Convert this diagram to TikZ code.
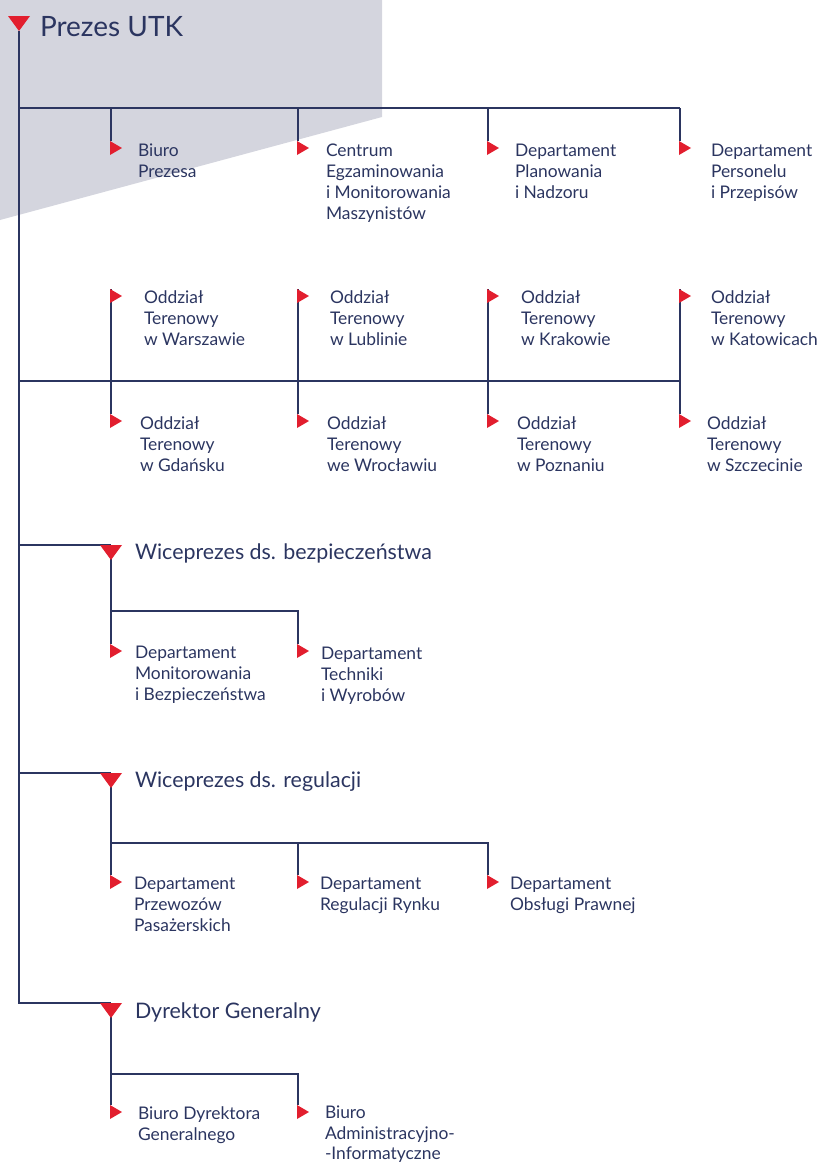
\documentclass[tikz,border=0pt]{standalone}
\usepackage{fontspec}
\setmainfont{Lato}
\definecolor{navy}{RGB}{43,53,96}
\definecolor{flagred}{RGB}{226,30,46}
\definecolor{greyfill}{RGB}{212,213,222}
\newcommand\flagR[1]{\fill[flagred] (#1) ++(-1,0) -- ++(12,7) -- ++(-12,7) -- cycle;}
\newcommand\flagD[1]{\fill[flagred] (#1) ++(-11,0) -- ++(22,0) -- ++(-11,15) -- cycle;}
\begin{document}
\begin{tikzpicture}[x=1pt,y=-1pt,
  conn/.style={draw=navy,line width=2.2pt,line join=miter},
  unit/.style={anchor=north west,inner sep=0pt,outer sep=0pt,text=navy,align=left,
    font=\fontsize{17.4}{21}\selectfont},
  head/.style={anchor=north west,inner sep=0pt,outer sep=0pt,text=navy,
    font=\fontsize{21.4}{26}\selectfont},
  top/.style={anchor=north west,inner sep=0pt,outer sep=0pt,text=navy,
    font=\fontsize{28}{32}\selectfont}]
\useasboundingbox (0,0) rectangle (819,1165);
\fill[greyfill] (0,0) -- (382,0) -- (382,117) -- (0,220) -- cycle;

% ---- coordinates
\coordinate (t0) at (19,16);
\coordinate (t1) at (19,31);
\coordinate (tb) at (19,1003);
\coordinate (h1) at (19,108);
\coordinate (h2) at (19,381);
\coordinate (h3) at (19,545);
\coordinate (h4) at (19,773);
% row 1
\coordinate (r1a) at (111,108); \coordinate (f1a) at (111,141);
\coordinate (r1b) at (298,108); \coordinate (f1b) at (298,141);
\coordinate (r1c) at (488,108); \coordinate (f1c) at (488,141);
\coordinate (r1d) at (680,108); \coordinate (f1d) at (680,141);
% row 2
\coordinate (u2a) at (111,289); \coordinate (d2a) at (111,414);
\coordinate (u2b) at (298,289); \coordinate (d2b) at (298,414);
\coordinate (u2c) at (488,289); \coordinate (d2c) at (488,414);
\coordinate (u2d) at (680,289); \coordinate (d2d) at (680,414);
\coordinate (r2d) at (680,381);
% vice bezp
\coordinate (v1) at (111,545); \coordinate (v1b) at (111,558);
\coordinate (v1h) at (111,611); \coordinate (v1r) at (298,611);
\coordinate (fba) at (111,644); \coordinate (fbb) at (298,644);
% vice reg
\coordinate (v2) at (111,773); \coordinate (v2b) at (111,786);
\coordinate (v2h) at (111,843); \coordinate (v2m) at (298,843); \coordinate (v2r) at (488,843);
\coordinate (fra) at (111,875); \coordinate (frb) at (298,875); \coordinate (frc) at (488,875);
% dyrektor
\coordinate (v3) at (111,1003); \coordinate (v3b) at (111,1016);
\coordinate (v3h) at (111,1074); \coordinate (v3r) at (298,1074);
\coordinate (fda) at (111,1105); \coordinate (fdb) at (298,1105);

% ---- connectors
\draw[conn] (t1) -- (tb) -- (v3);
\draw[conn] (h1) -- (r1d);
\draw[conn] (r1a) -- (f1a); \draw[conn] (r1b) -- (f1b);
\draw[conn] (r1c) -- (f1c); \draw[conn] (r1d) -- (f1d);
\draw[conn] (h2) -- (r2d);
\draw[conn] (u2a) -- (d2a); \draw[conn] (u2b) -- (d2b);
\draw[conn] (u2c) -- (d2c); \draw[conn] (u2d) -- (d2d);
\draw[conn] (h3) -- (v1);
\draw[conn] (v1b) -- (fba);
\draw[conn] (v1h) -- (v1r) -- (fbb);
\draw[conn] (h4) -- (v2);
\draw[conn] (v2b) -- (fra);
\draw[conn] (v2h) -- (v2r) -- (frc);
\draw[conn] (v2m) -- (frb);
\draw[conn] (v3b) -- (fda);
\draw[conn] (v3h) -- (v3r) -- (fdb);

% ---- markers
\flagD{t0}
\flagD{v1} \flagD{v2} \flagD{v3}
\flagR{f1a} \flagR{f1b} \flagR{f1c} \flagR{f1d}
\flagR{u2a} \flagR{u2b} \flagR{u2c} \flagR{u2d}
\flagR{d2a} \flagR{d2b} \flagR{d2c} \flagR{d2d}
\flagR{fba} \flagR{fbb}
\flagR{fra} \flagR{frb} \flagR{frc}
\flagR{fda} \flagR{fdb}

% ---- texts
\node[top] (prezes) at (40,16) {Prezes UTK};
\node[unit] (b1) at (138,144) {Biuro\\Prezesa};
\node[unit] (b2) at (326,144) {Centrum\\Egzaminowania\\i Monitorowania\\Maszynistów};
\node[unit] (b3) at (515,144) {Departament\\Planowania\\i Nadzoru};
\node[unit] (b4) at (711,144) {Departament\\Personelu\\i Przepisów};
\node[unit] (o1) at (144,291) {Oddział\\Terenowy\\w Warszawie};
\node[unit] (o2) at (330,291) {Oddział\\Terenowy\\w Lublinie};
\node[unit] (o3) at (521,291) {Oddział\\Terenowy\\w Krakowie};
\node[unit] (o4) at (711,291) {Oddział\\Terenowy\\w Katowicach};
\node[unit] (o5) at (140,417) {Oddział\\Terenowy\\w Gdańsku};
\node[unit] (o6) at (327,417) {Oddział\\Terenowy\\we Wrocławiu};
\node[unit] (o7) at (517,417) {Oddział\\Terenowy\\w Poznaniu};
\node[unit] (o8) at (707,417) {Oddział\\Terenowy\\w Szczecinie};
\node[head] (wb) at (135,544) {Wiceprezes ds. bezpieczeństwa};
\node[unit] (bz1) at (135,646) {Departament\\Monitorowania\\i Bezpieczeństwa};
\node[unit] (bz2) at (321,647) {Departament\\Techniki\\i Wyrobów};
\node[head] (wr) at (135,772) {Wiceprezes ds. regulacji};
\node[unit] (rg1) at (134,877) {Departament\\Przewozów\\Pasażerskich};
\node[unit] (rg2) at (320,877) {Departament\\Regulacji Rynku};
\node[unit] (rg3) at (510,877) {Departament\\Obsługi Prawnej};
\node[head] (dg) at (135,1003) {Dyrektor Generalny};
\node[unit] (dg1) at (138,1107) {Biuro Dyrektora\\Generalnego};
\node[unit,font=\fontsize{17.4}{20.5}\selectfont] (dg2) at (325,1106) {Biuro\\Administracyjno-\\-Informatyczne};
\end{tikzpicture}
\end{document}
